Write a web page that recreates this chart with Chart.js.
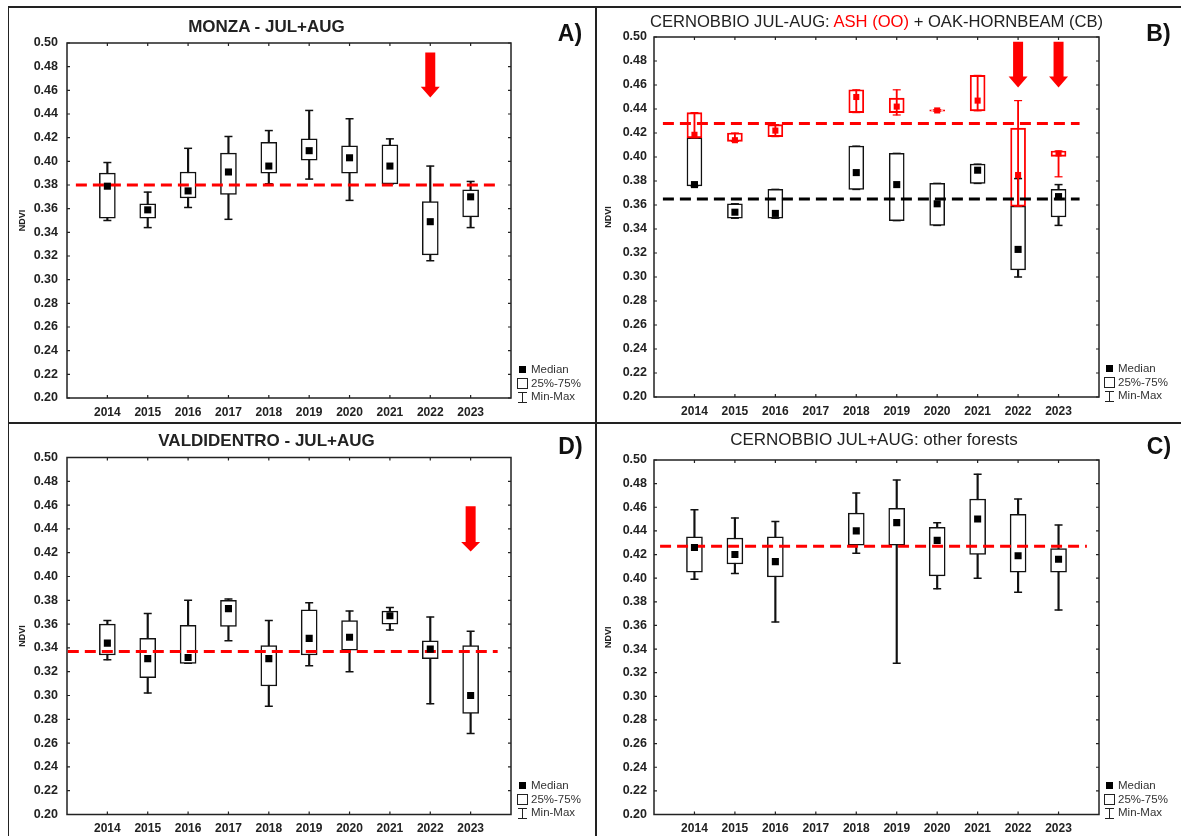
<!DOCTYPE html>
<html>
<head>
<meta charset="utf-8">
<script src="https://cdn.jsdelivr.net/npm/chart.js@4.4.1/dist/chart.umd.min.js"></script>
<style>
  body { margin: 0; background: #fff; font-family: 'Liberation Sans', Arial, sans-serif; }
  #fig { position: relative; width: 1181px; height: 836px; overflow: hidden; background: #fff; }
  canvas { position: absolute; }
  .line { position: absolute; background: #222; }
  .title { position: absolute; transform: translate(-50%, -50%); white-space: nowrap; color: #222; font-size: 17px; }
  .title.bold { font-weight: bold; }
  .title.thin { font-size: 16.6px; }
  .tag { position: absolute; transform: translate(-50%, -50%); font-weight: bold; font-size: 23px; color: #111; }
  .legend { position: absolute; font-size: 11.5px; color: #333; line-height: 13.7px; }
  .legend div { white-space: nowrap; }
  .legend span { display: inline-block; vertical-align: middle; margin-right: 3px; box-sizing: border-box; }
  .sq { width: 7px; height: 7px; background: #000; margin-left: 2px; margin-right: 5px !important; }
  .bx { width: 11px; height: 11px; border: 1px solid #222; background: #fff; }
  .ib { width: 9px; height: 11px; border-top: 1.3px solid #222; border-bottom: 1.3px solid #222;
        background: linear-gradient(#222, #222) center / 1.3px 100% no-repeat; margin-left: 1px; margin-right: 4px !important; }
</style>
</head>
<body>
<div id="fig">
  <canvas id="chartA" width="596" height="422" style="left:0;top:0"></canvas>
  <canvas id="chartB" width="584" height="422" style="left:597px;top:0"></canvas>
  <canvas id="chartD" width="596" height="412" style="left:0;top:424px"></canvas>
  <canvas id="chartC" width="584" height="412" style="left:597px;top:424px"></canvas>

  <div class="line" style="left:8px;top:6px;width:1173px;height:1.5px"></div>
  <div class="line" style="left:8px;top:421.5px;width:1173px;height:2.5px"></div>
  <div class="line" style="left:7.5px;top:6px;width:1.5px;height:830px"></div>
  <div class="line" style="left:595px;top:6px;width:1.5px;height:830px"></div>

  <div class="title bold" style="left:266.5px;top:27px">MONZA - JUL+AUG</div>
  <div class="title thin" style="left:876.5px;top:22px">CERNOBBIO JUL-AUG: <span style="color:#f00">ASH (OO)</span> + OAK-HORNBEAM (CB)</div>
  <div class="title bold" style="left:266.5px;top:441px">VALDIDENTRO - JUL+AUG</div>
  <div class="title" style="left:874px;top:440px">CERNOBBIO JUL+AUG: other forests</div>

  <div class="tag" style="left:570px;top:33px">A)</div>
  <div class="tag" style="left:1158.5px;top:33px">B)</div>
  <div class="tag" style="left:570.5px;top:446px">D)</div>
  <div class="tag" style="left:1159px;top:446px">C)</div>

  <div class="legend" style="left:517px;top:363px">
    <div><span class="sq"></span>Median</div><div><span class="bx"></span>25%-75%</div><div><span class="ib"></span>Min-Max</div>
  </div>
  <div class="legend" style="left:1104px;top:362px">
    <div><span class="sq"></span>Median</div><div><span class="bx"></span>25%-75%</div><div><span class="ib"></span>Min-Max</div>
  </div>
  <div class="legend" style="left:517px;top:779px">
    <div><span class="sq"></span>Median</div><div><span class="bx"></span>25%-75%</div><div><span class="ib"></span>Min-Max</div>
  </div>
  <div class="legend" style="left:1104px;top:779px">
    <div><span class="sq"></span>Median</div><div><span class="bx"></span>25%-75%</div><div><span class="ib"></span>Min-Max</div>
  </div>
</div>

<script>
const years = [2014, 2015, 2016, 2017, 2018, 2019, 2020, 2021, 2022, 2023];
const yTicks = [0.20, 0.22, 0.24, 0.26, 0.28, 0.30, 0.32, 0.34, 0.36, 0.38, 0.40, 0.42, 0.44, 0.46, 0.48, 0.50];

// A) Monza
const monzaMin = [0.350, 0.344, 0.361, 0.351, 0.381, 0.385, 0.367, 0.381, 0.316, 0.344];
const monzaQ1  = [0.352, 0.352, 0.369, 0.372, 0.390, 0.401, 0.390, 0.381, 0.321, 0.353];
const monzaMed = [0.379, 0.359, 0.375, 0.391, 0.396, 0.409, 0.403, 0.396, 0.349, 0.370];
const monzaQ3  = [0.390, 0.364, 0.391, 0.407, 0.416, 0.419, 0.413, 0.414, 0.366, 0.376];
const monzaMax = [0.399, 0.374, 0.411, 0.421, 0.426, 0.443, 0.436, 0.419, 0.396, 0.383];
const monzaRef = 0.380;

// B) Cernobbio, oak-hornbeam (CB, black) and ash (OO, red)
const cbMin = [0.376, 0.349, 0.349, null, 0.373, 0.347, 0.343, 0.378, 0.300, 0.343];
const cbQ1  = [0.376, 0.349, 0.349, null, 0.373, 0.347, 0.343, 0.378, 0.306, 0.350];
const cbMed = [0.377, 0.354, 0.353, null, 0.387, 0.377, 0.361, 0.389, 0.323, 0.367];
const cbQ3  = [0.416, 0.361, 0.373, null, 0.409, 0.403, 0.378, 0.394, 0.359, 0.373];
const cbMax = [0.416, 0.361, 0.373, null, 0.409, 0.403, 0.378, 0.394, 0.382, 0.377];
const cbRef = 0.365;
const ooMin = [0.416, 0.413, 0.417, null, 0.437, 0.435, 0.4382, 0.4385, 0.359, 0.3835];
const ooQ1  = [0.416, 0.413, 0.417, null, 0.437, 0.437, 0.4382, 0.4385, 0.359, 0.4005];
const ooMed = [0.4185, 0.414, 0.422, null, 0.450, 0.442, 0.4388, 0.447, 0.385, 0.403];
const ooQ3  = [0.437, 0.420, 0.427, null, 0.456, 0.449, 0.4394, 0.468, 0.424, 0.405];
const ooMax = [0.437, 0.420, 0.427, null, 0.456, 0.456, 0.4394, 0.468, 0.447, 0.405];
const ooRef = 0.428;

// D) Valdidentro
const valdMin = [0.330, 0.302, 0.327, 0.346, 0.291, 0.325, 0.320, 0.355, 0.293, 0.268];
const valdQ1  = [0.334, 0.315, 0.327, 0.358, 0.308, 0.334, 0.338, 0.360, 0.331, 0.285];
const valdMed = [0.344, 0.331, 0.332, 0.373, 0.331, 0.348, 0.349, 0.367, 0.339, 0.300];
const valdQ3  = [0.360, 0.348, 0.359, 0.380, 0.342, 0.372, 0.363, 0.371, 0.346, 0.342];
const valdMax = [0.363, 0.369, 0.380, 0.381, 0.363, 0.378, 0.371, 0.374, 0.366, 0.354];
const valdRef = 0.337;

// C) Cernobbio, other forests
const otherMin = [0.399, 0.404, 0.363, null, 0.421, 0.328, 0.391, 0.400, 0.388, 0.373];
const otherQ1  = [0.405, 0.412, 0.401, null, 0.428, 0.428, 0.402, 0.420, 0.405, 0.405];
const otherMed = [0.426, 0.420, 0.414, null, 0.440, 0.447, 0.432, 0.450, 0.419, 0.416];
const otherQ3  = [0.435, 0.434, 0.435, null, 0.455, 0.459, 0.443, 0.467, 0.454, 0.425];
const otherMax = [0.458, 0.451, 0.448, null, 0.472, 0.483, 0.447, 0.488, 0.467, 0.445];
const otherRef = 0.427;

// drought arrows: year, shaft top, head start, tip (NDVI units)
const arrowsA = [{ year: 2022, top: 0.492, head: 0.463, tip: 0.454 }];
const arrowsB = [{ year: 2022, top: 0.496, head: 0.467, tip: 0.458 },
                 { year: 2023, top: 0.496, head: 0.467, tip: 0.458 }];
const arrowsD = [{ year: 2023, top: 0.459, head: 0.429, tip: 0.421 }];

const RED = '#ff0000';
const FONT = "'Liberation Sans', Arial, sans-serif";

function boxDatasets(mins, q1s, meds, q3s, maxs, color, fill, lw, boxW, base) {
  const idx = years.map((y, i) => i).filter(i => meds[i] != null);
  return [
    { type: 'bar', grouped: false, order: base + 3, barThickness: lw,
      backgroundColor: color, borderWidth: 0,
      data: idx.map(i => ({ x: years[i], y: [mins[i], maxs[i]] })) },
    { type: 'scatter', order: base + 2, pointStyle: 'line', pointRadius: 4,
      pointBorderColor: color, pointBorderWidth: lw,
      data: idx.flatMap(i => [{ x: years[i], y: mins[i] }, { x: years[i], y: maxs[i] }]) },
    { type: 'bar', grouped: false, order: base + 1, barThickness: boxW,
      backgroundColor: fill, borderColor: color, borderWidth: lw, borderSkipped: false,
      data: idx.map(i => ({ x: years[i], y: [q1s[i], q3s[i]] })) }
  ];
}

function medianDataset(meds, color, r, order) {
  return { type: 'scatter', order, pointStyle: 'rect', pointRadius: r, pointBorderWidth: 0,
    pointBackgroundColor: color,
    data: years.map((y, i) => ({ x: y, y: meds[i] })).filter(p => p.y != null) };
}

function refDataset(value, span, color) {
  return { type: 'line', order: 1, borderColor: color, borderWidth: 3, borderDash: [11, 6],
    pointRadius: 0, data: span.map(x => ({ x, y: value })) };
}

const framePlugin = {
  id: 'frame',
  beforeDatasetsDraw(chart) {
    const { ctx, chartArea: a, scales } = chart;
    ctx.save();
    ctx.strokeStyle = '#222';
    ctx.lineWidth = 1.5;
    ctx.strokeRect(a.left, a.top, a.right - a.left, a.bottom - a.top);
    ctx.lineWidth = 1.2;
    ctx.beginPath();
    years.forEach(v => {
      const x = scales.x.getPixelForValue(v);
      ctx.moveTo(x, a.top); ctx.lineTo(x, a.top + 3);
      ctx.moveTo(x, a.bottom); ctx.lineTo(x, a.bottom - 3);
    });
    yTicks.forEach(v => {
      const y = scales.y.getPixelForValue(v);
      ctx.moveTo(a.left, y); ctx.lineTo(a.left + 3, y);
      ctx.moveTo(a.right, y); ctx.lineTo(a.right - 3, y);
    });
    ctx.stroke();
    ctx.restore();
  }
};

const arrowPlugin = {
  id: 'arrows',
  afterDatasetsDraw(chart, args, opts) {
    const list = opts.list || [];
    const { ctx, scales } = chart;
    ctx.save();
    ctx.fillStyle = RED;
    list.forEach(a => {
      const x = scales.x.getPixelForValue(a.year);
      const y0 = scales.y.getPixelForValue(a.top);
      const y1 = scales.y.getPixelForValue(a.head);
      const y2 = scales.y.getPixelForValue(a.tip);
      ctx.beginPath();
      ctx.moveTo(x - 5, y0); ctx.lineTo(x + 5, y0); ctx.lineTo(x + 5, y1);
      ctx.lineTo(x + 9.5, y1); ctx.lineTo(x, y2); ctx.lineTo(x - 9.5, y1);
      ctx.lineTo(x - 5, y1); ctx.closePath();
      ctx.fill();
    });
    ctx.restore();
  }
};

function makeChart(id, datasets, lay, arrows) {
  new Chart(document.getElementById(id), {
    type: 'bar',
    data: { datasets },
    options: {
      responsive: false,
      animation: false,
      layout: { padding: { left: 0, top: lay.top, right: lay.right, bottom: 0 } },
      plugins: {
        legend: { display: false },
        tooltip: { enabled: false },
        arrows: { list: arrows }
      },
      scales: {
        x: {
          type: 'linear', min: 2013, max: 2024, offset: false,
          afterBuildTicks: s => { s.ticks = years.map(v => ({ value: v })); },
          afterFit: s => { s.height = lay.xh; },
          grid: { drawOnChartArea: false, drawTicks: false },
          border: { display: false },
          ticks: { padding: 7, color: '#222', autoSkip: false, maxRotation: 0,
                   font: { family: FONT, size: 12, weight: 'bold' }, callback: v => String(v) }
        },
        y: {
          type: 'linear', min: 0.2, max: 0.5, beginAtZero: false,
          afterBuildTicks: s => { s.ticks = yTicks.map(v => ({ value: v })); },
          afterFit: s => { s.width = lay.yw; },
          grid: { drawOnChartArea: false, drawTicks: false },
          border: { display: false },
          ticks: { padding: lay.yp, color: '#222',
                   font: { family: FONT, size: 12.5, weight: 'bold' }, callback: v => v.toFixed(2) },
          title: { display: true, text: 'NDVI', color: '#222', padding: { top: lay.tp, bottom: 0 },
                   font: { family: FONT, size: 9, weight: 'bold' } }
        }
      }
    },
    plugins: [framePlugin, arrowPlugin]
  });
}

makeChart('chartA', [
  ...boxDatasets(monzaMin, monzaQ1, monzaMed, monzaQ3, monzaMax, '#111', '#fff', 1.5, 16, 2),
  refDataset(monzaRef, [2013.22, 2023.65], RED),
  medianDataset(monzaMed, '#000', 5, 0)
], { top: 43, right: 85, xh: 24, yw: 67, yp: 9, tp: 17 }, arrowsA);

makeChart('chartB', [
  ...boxDatasets(cbMin, cbQ1, cbMed, cbQ3, cbMax, '#111', '#fff', 1.5, 15, 7),
  ...boxDatasets(ooMin, ooQ1, ooMed, ooQ3, ooMax, RED, 'rgba(0,0,0,0)', 1.2, 15, 3),
  refDataset(cbRef, [2013.22, 2023.52], '#000'),
  refDataset(ooRef, [2013.22, 2023.52], RED),
  medianDataset(cbMed, '#000', 5, 0),
  medianDataset(ooMed, RED, 4.3, 0)
], { top: 37, right: 82, xh: 25, yw: 57, yp: 7, tp: 6 }, arrowsB);

makeChart('chartD', [
  ...boxDatasets(valdMin, valdQ1, valdMed, valdQ3, valdMax, '#111', '#fff', 1.5, 16, 2),
  refDataset(valdRef, [2013.02, 2023.67], RED),
  medianDataset(valdMed, '#000', 5, 0)
], { top: 33.5, right: 85, xh: 21.5, yw: 67, yp: 9, tp: 17 }, arrowsD);

makeChart('chartC', [
  ...boxDatasets(otherMin, otherQ1, otherMed, otherQ3, otherMax, '#111', '#fff', 1.5, 16, 2),
  refDataset(otherRef, [2013.15, 2023.7], RED),
  medianDataset(otherMed, '#000', 5, 0)
], { top: 36, right: 82, xh: 21.5, yw: 57, yp: 7, tp: 6 }, []);
</script>
</body>
</html>
